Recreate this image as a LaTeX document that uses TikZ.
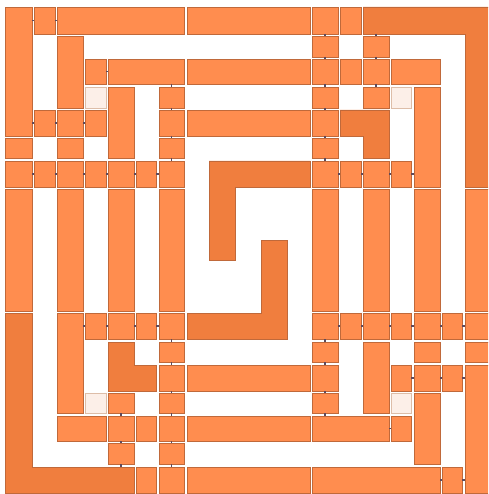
\documentclass[tikz,border=0pt]{standalone}
\definecolor{ltc}{HTML}{FF8D4F}
\definecolor{dkc}{HTML}{F07E3E}
\definecolor{bordc}{HTML}{C0693A}
\definecolor{pkc}{HTML}{FCEFE8}
\definecolor{pkb}{HTML}{DDBDA8}
\definecolor{connc}{HTML}{5E4A5C}
\tikzset{
  lt/.style={rectangle, draw=bordc, fill=ltc, line width=0.6pt, inner sep=0pt, outer sep=0pt},
  pk/.style={rectangle, draw=pkb, fill=pkc, line width=0.6pt, inner sep=0pt, outer sep=0pt},
  ghost/.style={rectangle, inner sep=0pt, outer sep=0pt},
  dk/.style={draw=bordc, fill=dkc, line width=0.6pt},
  conn/.style={draw=connc, line width=1.2pt},
}
\def\myCL{{5,34,57,85,108,136,159,187,312,340,363,391,414,442,465}}
\def\myCR{{32,55,83,106,134,156,184,310,338,361,389,411,440,462,491}}
\def\myRT{{7,36,59,87,110,138,161,189,313,342,365,393,416,443,467}}
\def\myRB{{34,57,84,108,136,158,187,311,339,362,391,413,441,464,493}}
\newcommand\pbox[6]{\node[#2, minimum width={(#4-#3)*1pt}, minimum height={(#6-#5)*1pt}] (#1) at ({(#3+#4)/2},{(#5+#6)/2}) {};}
\newcommand\gbox[6]{\pgfmathsetmacro\myxa{\myCL[#3]}\pgfmathsetmacro\myxb{\myCR[#4]}\pgfmathsetmacro\myya{\myRT[#5]}\pgfmathsetmacro\myyb{\myRB[#6]}\pbox{#1}{#2}{\myxa}{\myxb}{\myya}{\myyb}}
\newcommand\vcd[2]{\draw[conn] (#1.south -| #2.north) -- (#2.north);}
\newcommand\vcu[2]{\draw[conn] (#1.south) -- (#2.north -| #1.south);}
\newcommand\hcr[2]{\draw[conn] (#1.east |- #2.west) -- (#2.west);}
\newcommand\hcl[2]{\draw[conn] (#1.east) -- (#2.west |- #1.east);}
\begin{document}
\begin{tikzpicture}[x=1pt,y=-1pt]
\useasboundingbox (0,0) rectangle (488,494);
\clip (0,0) rectangle (488,494);
% row 0
\gbox{a00}{lt}{0}{0}{0}{4}
\gbox{a10}{lt}{1}{1}{0}{0}
\gbox{a20}{lt}{2}{6}{0}{0}
\gbox{a70}{lt}{7}{7}{0}{0}
\gbox{a80}{lt}{8}{8}{0}{0}
\gbox{a90}{lt}{9}{9}{0}{0}
\gbox{ltrh}{ghost}{10}{14}{0}{0}
\gbox{ltrv}{ghost}{14}{14}{0}{6}
% row 1
\gbox{a21}{lt}{2}{2}{1}{3}
\gbox{a81}{lt}{8}{8}{1}{1}
\gbox{a101}{lt}{10}{10}{1}{1}
% row 2
\gbox{a32}{lt}{3}{3}{2}{2}
\gbox{a42}{lt}{4}{6}{2}{2}
\gbox{a72}{lt}{7}{7}{2}{2}
\gbox{a82}{lt}{8}{8}{2}{2}
\gbox{a92}{lt}{9}{9}{2}{2}
\gbox{a102}{lt}{10}{10}{2}{2}
\gbox{a112}{lt}{11}{12}{2}{2}
% row 3
\gbox{p33}{pk}{3}{3}{3}{3}
\gbox{a43}{lt}{4}{4}{3}{5}
\gbox{a63}{lt}{6}{6}{3}{3}
\gbox{a83}{lt}{8}{8}{3}{3}
\gbox{a103}{lt}{10}{10}{3}{3}
\gbox{p113}{pk}{11}{11}{3}{3}
\gbox{a123}{lt}{12}{12}{3}{6}
% row 4
\gbox{a14}{lt}{1}{1}{4}{4}
\gbox{a24}{lt}{2}{2}{4}{4}
\gbox{a34}{lt}{3}{3}{4}{4}
\gbox{a64}{lt}{6}{6}{4}{4}
\gbox{a74}{lt}{7}{7}{4}{4}
\gbox{a84}{lt}{8}{8}{4}{4}
\gbox{lsh}{ghost}{9}{10}{4}{4}
\gbox{lsv}{ghost}{10}{10}{4}{5}
% row 5
\gbox{a05}{lt}{0}{0}{5}{5}
\gbox{a25}{lt}{2}{2}{5}{5}
\gbox{a65}{lt}{6}{6}{5}{5}
\gbox{a85}{lt}{8}{8}{5}{5}
% row 6
\gbox{a06}{lt}{0}{0}{6}{6}
\gbox{a16}{lt}{1}{1}{6}{6}
\gbox{a26}{lt}{2}{2}{6}{6}
\gbox{a36}{lt}{3}{3}{6}{6}
\gbox{a46}{lt}{4}{4}{6}{6}
\gbox{a56}{lt}{5}{5}{6}{6}
\gbox{a66}{lt}{6}{6}{6}{6}
\gbox{a86}{lt}{8}{8}{6}{6}
\gbox{a96}{lt}{9}{9}{6}{6}
\gbox{a106}{lt}{10}{10}{6}{6}
\gbox{a116}{lt}{11}{11}{6}{6}
% row 7
\gbox{a07}{lt}{0}{0}{7}{7}
\gbox{a27}{lt}{2}{2}{7}{7}
\gbox{a47}{lt}{4}{4}{7}{7}
\gbox{a67}{lt}{6}{6}{7}{7}
\gbox{a87}{lt}{8}{8}{7}{7}
\gbox{a107}{lt}{10}{10}{7}{7}
\gbox{a127}{lt}{12}{12}{7}{7}
\gbox{a147}{lt}{14}{14}{7}{7}
% row 8
\gbox{lblv}{ghost}{0}{0}{8}{14}
\gbox{lblh}{ghost}{0}{4}{14}{14}
\gbox{a28}{lt}{2}{2}{8}{11}
\gbox{a38}{lt}{3}{3}{8}{8}
\gbox{a48}{lt}{4}{4}{8}{8}
\gbox{a58}{lt}{5}{5}{8}{8}
\gbox{a68}{lt}{6}{6}{8}{8}
\gbox{a88}{lt}{8}{8}{8}{8}
\gbox{a98}{lt}{9}{9}{8}{8}
\gbox{a108}{lt}{10}{10}{8}{8}
\gbox{a118}{lt}{11}{11}{8}{8}
\gbox{a128}{lt}{12}{12}{8}{8}
\gbox{a138}{lt}{13}{13}{8}{8}
\gbox{a148}{lt}{14}{14}{8}{8}
% row 9
\gbox{lbv}{ghost}{4}{4}{9}{10}
\gbox{lbh}{ghost}{4}{5}{10}{10}
\gbox{a69}{lt}{6}{6}{9}{9}
\gbox{a89}{lt}{8}{8}{9}{9}
\gbox{a109}{lt}{10}{10}{9}{11}
\gbox{a129}{lt}{12}{12}{9}{9}
\gbox{a149}{lt}{14}{14}{9}{9}
% row 10
\gbox{a610}{lt}{6}{6}{10}{10}
\gbox{a710}{lt}{7}{7}{10}{10}
\gbox{a810}{lt}{8}{8}{10}{10}
\gbox{a1110}{lt}{11}{11}{10}{10}
\gbox{a1210}{lt}{12}{12}{10}{10}
\gbox{a1310}{lt}{13}{13}{10}{10}
\gbox{a1410}{lt}{14}{14}{10}{14}
% row 11
\gbox{p311}{pk}{3}{3}{11}{11}
\gbox{a411}{lt}{4}{4}{11}{11}
\gbox{a611}{lt}{6}{6}{11}{11}
\gbox{a811}{lt}{8}{8}{11}{11}
\gbox{p1111}{pk}{11}{11}{11}{11}
\gbox{a1211}{lt}{12}{12}{11}{13}
% row 12
\gbox{a212}{lt}{2}{3}{12}{12}
\gbox{a412}{lt}{4}{4}{12}{12}
\gbox{a512}{lt}{5}{5}{12}{12}
\gbox{a612}{lt}{6}{6}{12}{12}
\gbox{a712}{lt}{7}{7}{12}{12}
\gbox{a812}{lt}{8}{10}{12}{12}
\gbox{a1112}{lt}{11}{11}{12}{12}
% row 13
\gbox{a413}{lt}{4}{4}{13}{13}
\gbox{a613}{lt}{6}{6}{13}{13}
% row 14
\gbox{a514}{lt}{5}{5}{14}{14}
\gbox{a614}{lt}{6}{6}{14}{14}
\gbox{a714}{lt}{7}{7}{14}{14}
\gbox{a814}{lt}{8}{12}{14}{14}
\gbox{a1314}{lt}{13}{13}{14}{14}
% spiral parts
\pbox{s1h}{ghost}{209}{310}{161}{187}
\pbox{s1v}{ghost}{209}{235}{161}{260}
\pbox{s2v}{ghost}{261}{287}{240}{339}
\pbox{s2h}{ghost}{187}{287}{313}{339}
% dark L shapes
\draw[dk] (ltrh.north west) -- (ltrv.north east) -- (ltrv.south east) -- (ltrv.south west) -- (ltrv.west |- ltrh.south) -- (ltrh.south west) -- cycle;
\draw[dk] (lblv.north west) -- (lblv.north east) -- (lblv.east |- lblh.north) -- (lblh.north east) -- (lblh.south east) -- (lblv.south west) -- cycle;
\draw[dk] (lsh.north west) -- (lsh.north east) -- (lsv.south east) -- (lsv.south west) -- (lsv.west |- lsh.south) -- (lsh.south west) -- cycle;
\draw[dk] (lbv.north west) -- (lbv.north east) -- (lbv.east |- lbh.north) -- (lbh.north east) -- (lbh.south east) -- (lbh.south west) -- cycle;
\draw[dk] (s1h.north west) -- (s1h.north east) -- (s1h.south east) -- (s1v.east |- s1h.south) -- (s1v.south east) -- (s1v.south west) -- cycle;
\draw[dk] (s2v.north west) -- (s2v.north east) -- (s2v.south east) -- (s2h.south west) -- (s2h.north west) -- (s2v.west |- s2h.north) -- cycle;
% vertical connectors
\vcd{a80}{a81} \vcd{ltrh}{a101} \vcd{a81}{a82} \vcd{a101}{a102}
\vcd{a82}{a83} \vcd{a102}{a103} \vcd{a83}{a84} \vcd{a84}{a85} \vcd{a85}{a86}
\vcd{a42}{a63} \vcd{a63}{a64} \vcd{a64}{a65} \vcd{a65}{a66}
\vcd{a68}{a69} \vcd{a69}{a610} \vcd{a610}{a611} \vcd{a611}{a612} \vcd{a612}{a613} \vcd{a613}{a614}
\vcd{a411}{a412} \vcd{a412}{a413} \vcu{a413}{lblh}
\vcd{a88}{a89} \vcd{a89}{a810} \vcd{a810}{a811} \vcu{a811}{a812}
% horizontal connectors
\hcr{a00}{a10} \hcr{a10}{a20} \hcr{a32}{a42}
\hcr{a00}{a14} \hcr{a14}{a24} \hcr{a24}{a34}
\hcr{a06}{a16} \hcr{a16}{a26} \hcr{a26}{a36} \hcr{a36}{a46} \hcr{a46}{a56} \hcr{a56}{a66}
\hcr{a86}{a96} \hcr{a96}{a106} \hcr{a106}{a116} \hcl{a116}{a123}
\hcr{a28}{a38} \hcr{a38}{a48} \hcr{a48}{a58} \hcr{a58}{a68}
\hcr{a88}{a98} \hcr{a98}{a108} \hcr{a108}{a118} \hcr{a118}{a128} \hcr{a128}{a138} \hcr{a138}{a148}
\hcr{a1110}{a1210} \hcr{a1210}{a1310} \hcl{a1310}{a1410}
\hcr{a812}{a1112}
\hcr{a814}{a1314} \hcl{a1314}{a1410}
\end{tikzpicture}
\end{document}
